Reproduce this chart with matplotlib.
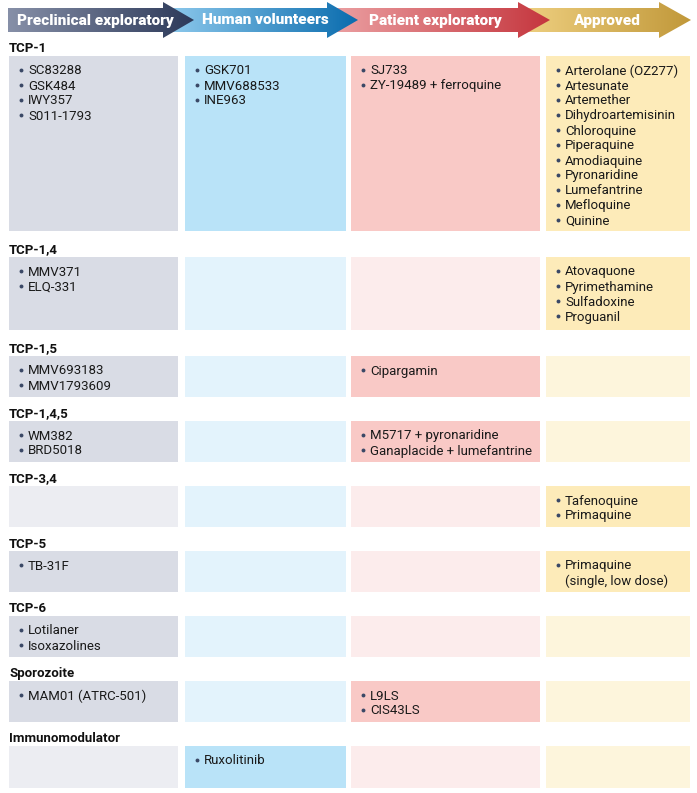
import numpy as np
import matplotlib
matplotlib.use("Agg")
import matplotlib.pyplot as plt
from matplotlib.patches import Rectangle, Polygon
from matplotlib.colors import LinearSegmentedColormap

plt.rcParams['font.family'] = ['Roboto', 'DejaVu Sans']

# stages (columns) and target candidate profiles (rows)
stages = ["Preclinical exploratory", "Human volunteers", "Patient exploratory", "Approved"]
groups = ["TCP-1", "TCP-1,4", "TCP-1,5", "TCP-1,4,5", "TCP-3,4", "TCP-5",
          "TCP-6", "Sporozoite", "Immunomodulator"]

preclinical = [["SC83288", "GSK484", "IWY357", "S011-1793"],
               ["MMV371", "ELQ-331"],
               ["MMV693183", "MMV1793609"],
               ["WM382", "BRD5018"],
               [],
               ["TB-31F"],
               ["Lotilaner", "Isoxazolines"],
               ["MAM01 (ATRC-501)"],
               []]
volunteers = [["GSK701", "MMV688533", "INE963"],
              [], [], [], [], [], [], [],
              ["Ruxolitinib"]]
patient = [["SJ733", "ZY-19489 + ferroquine"],
           [],
           ["Cipargamin"],
           ["M5717 + pyronaridine", "Ganaplacide + lumefantrine"],
           [], [], [],
           ["L9LS", "CIS43LS"],
           []]
approved = [["Arterolane (OZ277)", "Artesunate", "Artemether", "Dihydroartemisinin",
             "Chloroquine", "Piperaquine", "Amodiaquine", "Pyronaridine",
             "Lumefantrine", "Mefloquine", "Quinine"],
            ["Atovaquone", "Pyrimethamine", "Sulfadoxine", "Proguanil"],
            [], [],
            ["Tafenoquine", "Primaquine"],
            ["Primaquine\n(single, low dose)"],
            [], [], []]
cells = [preclinical, volunteers, patient, approved]

# layout (pixels)
col_x = [(9, 178), (185, 346), (351, 540), (546, 690)]
row_h = [175, 73, 41, 41, 41, 41, 41, 41, 42]
row_gap = [26, 26, 24, 24, 24, 24, 24, 24, 0]
full_col = ["#d9dce5", "#b9e3f8", "#f9c9c6", "#fdebb9"]
light_col = ["#ecedf2", "#e3f3fc", "#fcecec", "#fdf5dc"]
arrows = [(8, 163, 194, "#8790a8", "#2c3959"),
          (160, 327, 358, "#93cdef", "#0a6cae"),
          (322, 518, 550, "#eda5a7", "#c5363e"),
          (516, 659, 691, "#f0d283", "#c1983a")]
head_x = [95, 265, 435, 606]

fig = plt.figure(figsize=(6.97, 7.93), dpi=100)
ax = fig.add_axes([0, 0, 1, 1])

# header arrows, drawn right to left so each head sits on the next body
for i in range(3, -1, -1):
    x0, xh, xt, c0, c1 = arrows[i]
    poly = Polygon([(x0, 8), (xh, 8), (xh, 2), (xt, 20), (xh, 38), (xh, 32), (x0, 32)],
                   closed=True, facecolor="none", edgecolor="none", zorder=2 + (4 - i))
    ax.add_patch(poly)
    cmap = LinearSegmentedColormap.from_list("g%d" % i, [c0, c1])
    im = ax.imshow(np.linspace(0, 1, 256).reshape(1, -1), cmap=cmap,
                   extent=(x0, xt, 38, 2), aspect="auto", zorder=2 + (4 - i))
    im.set_clip_path(poly)
    ax.text(head_x[i], 20.5, stages[i], color="white", fontsize=11, fontweight="heavy",
            ha="center", va="center", zorder=10)

# rows
top = 56
for r, g in enumerate(groups):
    ax.text(9, top - 7, g, fontsize=9.5, fontweight="bold", color="#111111",
            ha="left", va="center")
    for c in range(4):
        items = cells[c][r]
        xa, xb = col_x[c]
        fc = full_col[c] if items else light_col[c]
        ax.add_patch(Rectangle((xa, top), xb - xa, row_h[r], facecolor=fc,
                               edgecolor="none", zorder=1))
        line = 0
        for it in items:
            yy = top + 14 + 15 * line
            ax.plot(xa + 12, yy, "o", ms=2.8, color="#3a4866", mec="none", zorder=3)
            parts = it.split("\n")
            for k, part in enumerate(parts):
                ax.text(xa + 19, yy + 1 + 15 * k, part, fontsize=9.5, color="#1a1a1a",
                        ha="left", va="center", zorder=3)
            line += len(parts)
    top = top + row_h[r] + row_gap[r]

ax.set_xlim(0, 697)
ax.set_ylim(793, 0)
ax.axis("off")
fig.savefig("out.png", dpi=100)
